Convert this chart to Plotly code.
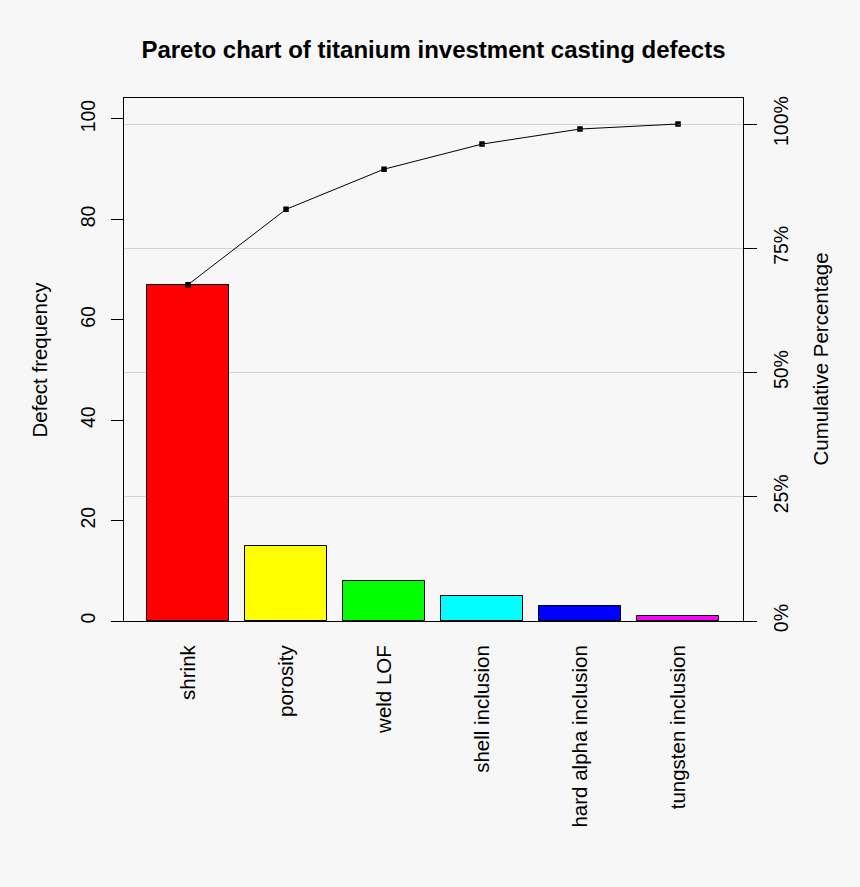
import plotly.graph_objects as go

categories = ["shrink", "porosity", "weld LOF", "shell inclusion", "hard alpha inclusion", "tungsten inclusion"]
frequency = [67, 15, 8, 5, 3, 1]
bar_colors = ["#ff0000", "#ffff00", "#00ff00", "#00ffff", "#0000ff", "#ff00ff"]
left_ticks = [0, 20, 40, 60, 80, 100]
pct_labels = ["0%", "25%", "50%", "75%", "100%"]
pct_fracs = [0, 0.25, 0.5, 0.75, 1.0]

total = sum(frequency)
cumulative = []
s = 0
for v in frequency:
    s += v
    cumulative.append(s)
pct_vals = [f * total for f in pct_fracs]

xs = list(range(len(categories)))
ymax = 104.18
bg = "#f7f7f7"
font_family = "Liberation Sans, Arial, sans-serif"

fig = go.Figure()
fig.add_trace(go.Bar(
    x=xs, y=frequency, width=0.837,
    marker=dict(color=bar_colors, line=dict(color="black", width=1)),
    showlegend=False, hoverinfo="skip",
))
fig.add_trace(go.Scatter(
    x=xs, y=cumulative, mode="lines+markers",
    line=dict(color="black", width=1),
    marker=dict(symbol="square-x-open", size=4, color="black", line=dict(color="black", width=1.5)),
    showlegend=False, hoverinfo="skip",
))
# invisible trace to activate the right axis
fig.add_trace(go.Scatter(x=[xs[0]], y=[0], yaxis="y2", mode="markers",
                         marker=dict(opacity=0), showlegend=False, hoverinfo="skip"))

fig.update_layout(
    width=860, height=887,
    paper_bgcolor=bg, plot_bgcolor=bg,
    margin=dict(l=124, r=117, t=98, b=266),
    font=dict(family=font_family, size=20, color="black"),
    title=dict(text="<b>Pareto chart of titanium investment casting defects</b>",
               x=0.5, xref="paper", y=1 - 50 / 887, yref="container", yanchor="middle",
               font=dict(size=24, color="black")),
    bargap=0,
    xaxis=dict(
        range=[-0.653, 5.663], tickvals=xs, ticktext=categories,
        tickangle=-90, ticks="", showgrid=False, zeroline=False,
        showline=True, linecolor="black", linewidth=1, mirror=True,
        ticklabelstandoff=15, tickfont=dict(size=20.5),
    ),
    yaxis=dict(
        range=[0, ymax], tickvals=left_ticks, tickangle=-90,
        ticks="outside", ticklen=12, tickcolor="black", tickwidth=1,
        showgrid=False, zeroline=False,
        showline=True, linecolor="black", linewidth=1, mirror=True,
        ticklabelstandoff=8, tickfont=dict(size=19.5),
    ),
    yaxis2=dict(
        range=[0, ymax], overlaying="y", side="right",
        tickvals=pct_vals, ticktext=pct_labels, tickangle=-90,
        ticks="outside", ticklen=13, tickcolor="black", tickwidth=1,
        showgrid=True, gridcolor="#d3d3d3", gridwidth=1,
        zeroline=False, showline=False,
        ticklabelstandoff=8, tickfont=dict(size=19.5),
    ),
    annotations=[
        dict(text="Defect frequency", textangle=-90, xref="paper", yref="paper",
             x=(39 - 124) / 619, y=0.5, showarrow=False, xanchor="center", yanchor="middle",
             font=dict(size=20.5)),
        dict(text="Cumulative Percentage", textangle=-90, xref="paper", yref="paper",
             x=(820 - 124) / 619, y=0.5, showarrow=False, xanchor="center", yanchor="middle",
             font=dict(size=20.5)),
    ],
)
fig.update_layout(yaxis2_layer="below traces")

fig.write_html("out.html")
